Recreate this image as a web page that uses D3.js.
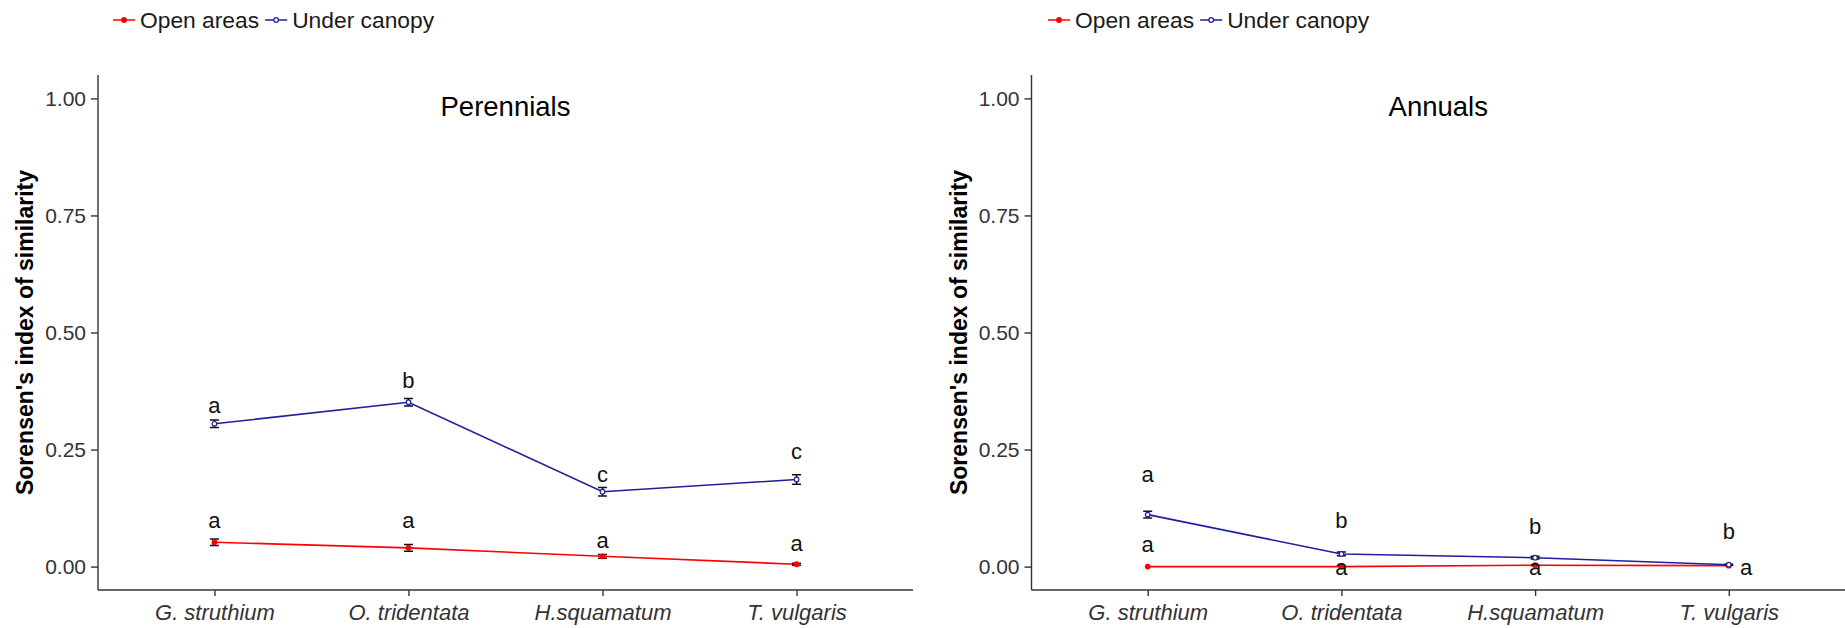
<!DOCTYPE html>
<html lang="en">
<head>
    <meta charset="UTF-8">
    <title>Sorensen's index of similarity</title>
    <script src="https://cdn.jsdelivr.net/npm/d3@7"></script>
    <style>
        body {
            margin: 0;
            background: #fff;
        }

        svg text {
            font-family: "Liberation Sans", Arial, sans-serif;
        }

        .axis path,
        .axis line {
            stroke: #333;
            stroke-width: 1.4px;
        }

        .axis text {
            fill: #333;
        }
    </style>
</head>
<body>
    <svg id="chart" width="1845" height="628"></svg>
    <script>
        // shared categories / series
        const species = ["G. struthium", "O. tridentata", "H.squamatum", "T. vulgaris"];
        const seriesNames = ["Open areas", "Under canopy"];
        const seriesColors = ["#ff0000", "#1e1ea0"];
        const yTicks = [0, 0.25, 0.5, 0.75, 1];

        // Perennials
        const perOpenMean = [0.052, 0.040, 0.022, 0.005];
        const perOpenSe = [0.007, 0.007, 0.004, 0.002];
        const perCanopyMean = [0.305, 0.351, 0.160, 0.186];
        const perCanopySe = [0.008, 0.008, 0.009, 0.010];
        const perOpenLetters = ["a", "a", "a", "a"];
        const perOpenLetterY = [0.083, 0.083, 0.040, 0.033];
        const perCanopyLetters = ["a", "b", "c", "c"];
        const perCanopyLetterY = [0.329, 0.382, 0.180, 0.230];

        // Annuals
        const annOpenMean = [0, 0, 0.003, 0.002];
        const annOpenSe = [0, 0, 0, 0];
        const annCanopyMean = [0.111, 0.027, 0.019, 0.004];
        const annCanopySe = [0.007, 0.004, 0.003, 0.001];
        const annOpenLetters = ["a", "a", "a", "a"];
        const annOpenLetterY = [0.031, -0.019, -0.019, -0.019];
        const annOpenLetterDx = [0, 0, 0, 0.09];
        const annCanopyLetters = ["a", "b", "b", "b"];
        const annCanopyLetterY = [0.180, 0.083, 0.070, 0.059];

        const svg = d3.select("#chart");

        function drawPanel(p) {
            const g = svg.append("g").attr("transform", `translate(${p.left},0)`);
            const plotW = p.width;
            const top = 75, bottom = 590;

            const x = d3.scalePoint().domain(species).range([0, plotW]).padding(0.6);
            const step = x.step();
            const y = d3.scaleLinear().domain([-0.05, 1.05]).range([bottom, top]);

            // legend
            const leg = g.append("g");
            let lx = p.legendX;
            seriesNames.forEach((name, i) => {
                leg.append("line")
                    .attr("x1", lx).attr("x2", lx + 22)
                    .attr("y1", 20).attr("y2", 20)
                    .attr("stroke", seriesColors[i]).attr("stroke-width", 1.5);
                leg.append("circle")
                    .attr("cx", lx + 11).attr("cy", 20).attr("r", 2.3)
                    .attr("fill", i === 0 ? seriesColors[i] : "#fff")
                    .attr("stroke", seriesColors[i]).attr("stroke-width", 1.2);
                const t = leg.append("text")
                    .attr("x", lx + 27).attr("y", 28)
                    .attr("font-size", 22.8)
                    .attr("fill", "#1a1a1a")
                    .text(name);
                lx += 27 + t.node().getComputedTextLength() + 6;
            });

            // axes
            g.append("g").attr("class", "axis")
                .attr("transform", `translate(0,${bottom})`)
                .call(d3.axisBottom(x).tickSize(6).tickSizeOuter(0))
                .call(a => a.select(".domain").attr("d", `M0,0H${plotW}`))
                .call(a => a.selectAll("text")
                    .attr("y", 30)
                    .attr("dy", 0)
                    .attr("font-size", 22)
                    .attr("font-style", "italic")
                    .attr("font-family", "Liberation Sans, Arial, sans-serif"));

            g.append("g").attr("class", "axis")
                .call(d3.axisLeft(y).tickValues(yTicks).tickFormat(d3.format(".2f")).tickSize(7).tickSizeOuter(0))
                .call(a => a.select(".domain").attr("d", `M0,${top}V${bottom}`))
                .call(a => a.selectAll("text")
                    .attr("x", -12)
                    .attr("font-size", 21)
                    .attr("font-family", "Liberation Sans, Arial, sans-serif"));

            // y title
            g.append("text")
                .attr("transform", `translate(-65,${(top + bottom) / 2}) rotate(-90)`)
                .attr("text-anchor", "middle")
                .attr("font-size", 23)
                .attr("font-weight", "bold")
                .attr("fill", "#000")
                .text("Sorensen's index of similarity");

            // panel title
            g.append("text")
                .attr("x", plotW / 2).attr("y", 116)
                .attr("text-anchor", "middle")
                .attr("font-size", 27.5)
                .attr("fill", "#000")
                .text(p.title);

            const series = [
                { mean: p.openMean, se: p.openSe, color: seriesColors[0], fill: seriesColors[0] },
                { mean: p.canopyMean, se: p.canopySe, color: seriesColors[1], fill: "#fff" }
            ];

            const line = d3.line()
                .x((d, i) => x(species[i]))
                .y(d => y(d));

            series.forEach(s => {
                g.append("path")
                    .datum(s.mean)
                    .attr("fill", "none")
                    .attr("stroke", s.color)
                    .attr("stroke-width", 1.6)
                    .attr("d", line);

                const eb = g.append("g");
                s.mean.forEach((m, i) => {
                    if (s.se[i] <= 0) return;
                    const cx = x(species[i]);
                    eb.append("path")
                        .attr("d", `M${cx - 4.5},${y(m + s.se[i])}H${cx + 4.5}M${cx},${y(m + s.se[i])}V${y(m - s.se[i])}M${cx - 4.5},${y(m - s.se[i])}H${cx + 4.5}`)
                        .attr("stroke", "#111")
                        .attr("stroke-width", 1.5)
                        .attr("fill", "none");
                });

                g.selectAll(null)
                    .data(s.mean)
                    .enter().append("circle")
                    .attr("cx", (d, i) => x(species[i]))
                    .attr("cy", d => y(d))
                    .attr("r", 2.3)
                    .attr("fill", s.fill)
                    .attr("stroke", s.color)
                    .attr("stroke-width", 1.2);
            });

            // significance letters
            const letters = [
                { txt: p.canopyLetters, yv: p.canopyLetterY, dx: [0, 0, 0, 0] },
                { txt: p.openLetters, yv: p.openLetterY, dx: p.openLetterDx || [0, 0, 0, 0] }
            ];
            letters.forEach(l => {
                g.selectAll(null)
                    .data(l.txt)
                    .enter().append("text")
                    .attr("x", (d, i) => x(species[i]) + l.dx[i] * step)
                    .attr("y", (d, i) => y(l.yv[i]))
                    .attr("text-anchor", "middle")
                    .attr("font-size", 22)
                    .attr("fill", "#111")
                    .text(d => d);
            });
        }

        drawPanel({
            left: 98, width: 815, legendX: 15, title: "Perennials",
            openMean: perOpenMean, openSe: perOpenSe,
            canopyMean: perCanopyMean, canopySe: perCanopySe,
            openLetters: perOpenLetters, openLetterY: perOpenLetterY,
            canopyLetters: perCanopyLetters, canopyLetterY: perCanopyLetterY
        });

        drawPanel({
            left: 1031.5, width: 813.5, legendX: 16.5, title: "Annuals",
            openMean: annOpenMean, openSe: annOpenSe,
            canopyMean: annCanopyMean, canopySe: annCanopySe,
            openLetters: annOpenLetters, openLetterY: annOpenLetterY, openLetterDx: annOpenLetterDx,
            canopyLetters: annCanopyLetters, canopyLetterY: annCanopyLetterY
        });
    </script>
</body>
</html>
